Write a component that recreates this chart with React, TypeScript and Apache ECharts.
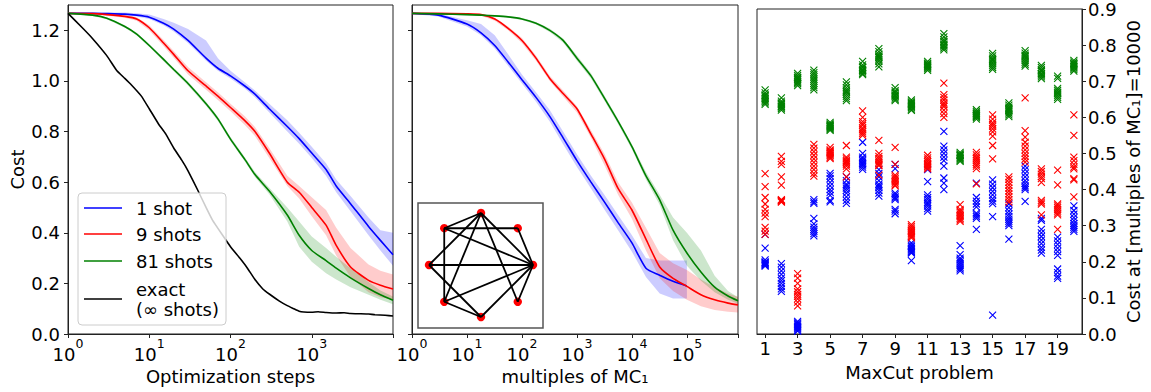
import React, { useEffect, useRef } from "react";
import * as echarts from "echarts";

const FONT = "DejaVu Sans";

// ---------- left panel: cost vs optimization steps ----------
const stepsX = [1, 2, 3, 5, 7, 10, 15, 20, 30, 50, 70, 100, 150, 200, 300, 500, 700, 1000, 1500, 2000, 3000, 5000, 7000, 10000];
const steps1Shot = [1.267, 1.267, 1.266, 1.264, 1.26, 1.252, 1.228, 1.205, 1.16, 1.09, 1.05, 1.02, 0.98, 0.948, 0.89, 0.82, 0.772, 0.715, 0.65, 0.585, 0.515, 0.425, 0.37, 0.313];
const steps1ShotHi = [1.27, 1.27, 1.27, 1.27, 1.267, 1.262, 1.245, 1.23, 1.205, 1.16, 1.09, 1.04, 0.995, 0.962, 0.91, 0.845, 0.795, 0.74, 0.675, 0.61, 0.545, 0.46, 0.41, 0.4];
const steps1ShotLo = [1.265, 1.264, 1.262, 1.26, 1.255, 1.245, 1.22, 1.195, 1.15, 1.08, 1.04, 1.01, 0.97, 0.935, 0.875, 0.8, 0.752, 0.695, 0.625, 0.56, 0.485, 0.39, 0.33, 0.27];
const steps9Shots = [1.267, 1.266, 1.262, 1.255, 1.245, 1.21, 1.15, 1.105, 1.04, 0.98, 0.94, 0.895, 0.843, 0.8, 0.715, 0.6, 0.56, 0.5, 0.43, 0.35, 0.265, 0.212, 0.193, 0.178];
const steps9ShotsHi = [1.268, 1.268, 1.265, 1.26, 1.252, 1.22, 1.162, 1.118, 1.055, 0.995, 0.955, 0.91, 0.86, 0.818, 0.735, 0.625, 0.585, 0.54, 0.49, 0.42, 0.34, 0.275, 0.25, 0.235];
const steps9ShotsLo = [1.265, 1.263, 1.258, 1.25, 1.238, 1.2, 1.138, 1.092, 1.025, 0.965, 0.925, 0.88, 0.826, 0.782, 0.695, 0.585, 0.535, 0.465, 0.39, 0.31, 0.225, 0.165, 0.145, 0.135];
const steps81Shots = [1.267, 1.26, 1.248, 1.215, 1.185, 1.14, 1.085, 1.045, 0.99, 0.91, 0.85, 0.77, 0.69, 0.63, 0.565, 0.47, 0.39, 0.33, 0.29, 0.26, 0.222, 0.18, 0.155, 0.133];
const steps81ShotsHi = [1.268, 1.262, 1.252, 1.22, 1.19, 1.146, 1.092, 1.052, 0.998, 0.918, 0.858, 0.778, 0.698, 0.64, 0.578, 0.5, 0.445, 0.385, 0.34, 0.305, 0.26, 0.205, 0.172, 0.148];
const steps81ShotsLo = [1.265, 1.257, 1.244, 1.21, 1.18, 1.134, 1.078, 1.038, 0.982, 0.902, 0.842, 0.762, 0.682, 0.62, 0.552, 0.445, 0.345, 0.285, 0.24, 0.215, 0.185, 0.155, 0.135, 0.118];
const exactX = [1, 1.5, 2, 3, 4, 5, 6, 8, 10, 13, 16, 20, 25, 30, 40, 50, 60, 80, 100, 130, 160, 200, 250, 300, 400, 500, 600, 700, 800, 1000, 1200, 1500, 2000, 2500, 3000, 4000, 5000, 6000, 8000, 10000];
const exactCost = [1.267, 1.21, 1.168, 1.1, 1.04, 1.01, 0.985, 0.94, 0.89, 0.83, 0.79, 0.735, 0.688, 0.645, 0.565, 0.5, 0.45, 0.39, 0.345, 0.3, 0.262, 0.215, 0.178, 0.158, 0.13, 0.112, 0.1, 0.09, 0.087, 0.086, 0.088, 0.085, 0.083, 0.084, 0.081, 0.08, 0.079, 0.076, 0.074, 0.071];

// ---------- middle panel: cost vs multiples of MC1 ----------
const mcX = [1, 3, 10, 18, 32, 56, 100, 180, 320, 560, 1000, 1800, 3200, 5600, 10000, 18000, 32000, 56000, 100000, 180000, 320000, 560000, 850000];
const mc1Shot = [1.267, 1.26, 1.225, 1.19, 1.14, 1.075, 1.005, 0.935, 0.86, 0.775, 0.685, 0.6, 0.52, 0.44, 0.36, 0.26, 0.232, 0.208, 0.19];
const mc1ShotHi = [1.27, 1.266, 1.24, 1.225, 1.18, 1.105, 1.025, 0.955, 0.885, 0.8, 0.71, 0.625, 0.548, 0.47, 0.39, 0.3, 0.29, 0.29, 0.29];
const mc1ShotLo = [1.264, 1.255, 1.215, 1.18, 1.128, 1.06, 0.99, 0.918, 0.84, 0.75, 0.66, 0.575, 0.49, 0.41, 0.325, 0.225, 0.16, 0.14, 0.14];
const mc9Shots = [1.267, 1.267, 1.265, 1.262, 1.245, 1.208, 1.16, 1.09, 1.01, 0.95, 0.89, 0.79, 0.69, 0.575, 0.49, 0.375, 0.265, 0.22, 0.188, 0.155, 0.135, 0.122, 0.115];
const mc9ShotsHi = [1.268, 1.268, 1.267, 1.265, 1.25, 1.215, 1.17, 1.1, 1.02, 0.962, 0.9, 0.805, 0.71, 0.6, 0.52, 0.42, 0.32, 0.28, 0.253, 0.215, 0.185, 0.16, 0.147];
const mc9ShotsLo = [1.265, 1.265, 1.262, 1.258, 1.238, 1.2, 1.15, 1.08, 1.0, 0.938, 0.875, 0.775, 0.665, 0.55, 0.455, 0.33, 0.22, 0.17, 0.135, 0.11, 0.095, 0.088, 0.085];
const mc81Shots = [1.267, 1.265, 1.262, 1.26, 1.257, 1.253, 1.245, 1.228, 1.2, 1.16, 1.09, 1.02, 0.93, 0.84, 0.74, 0.625, 0.53, 0.41, 0.32, 0.245, 0.185, 0.15, 0.131];
const mc81ShotsHi = [1.268, 1.267, 1.265, 1.263, 1.26, 1.256, 1.249, 1.233, 1.207, 1.168, 1.1, 1.03, 0.94, 0.85, 0.75, 0.64, 0.55, 0.46, 0.4, 0.33, 0.23, 0.17, 0.145];
const mc81ShotsLo = [1.265, 1.263, 1.259, 1.257, 1.254, 1.25, 1.241, 1.223, 1.193, 1.152, 1.08, 1.01, 0.92, 0.83, 0.73, 0.61, 0.51, 0.37, 0.27, 0.21, 0.165, 0.135, 0.12];

// ---------- right panel: cost at 10000 MC1 per MaxCut problem ----------
const problems = [1, 2, 3, 4, 5, 6, 7, 8, 9, 10, 11, 12, 13, 14, 15, 16, 17, 18, 19, 20];
const problemTicks = [1, 3, 5, 7, 9, 11, 13, 15, 17, 19];
const blueCosts = [
  [0.276, 0.238, 0.205, 0.2, 0.198, 0.196, 0.194, 0.192, 0.19, 0.188],
  [0.195, 0.185, 0.175, 0.165, 0.155, 0.148, 0.14, 0.132, 0.125, 0.118],
  [0.035, 0.031, 0.028, 0.025, 0.022, 0.02, 0.017, 0.014, 0.011, 0.008],
  [0.372, 0.366, 0.362, 0.32, 0.305, 0.296, 0.29, 0.284, 0.278, 0.272],
  [0.445, 0.438, 0.43, 0.42, 0.41, 0.4, 0.392, 0.384, 0.37, 0.366],
  [0.435, 0.425, 0.415, 0.41, 0.404, 0.398, 0.39, 0.38, 0.37, 0.362],
  [0.531, 0.5, 0.49, 0.485, 0.48, 0.476, 0.472, 0.468, 0.462, 0.456],
  [0.455, 0.445, 0.435, 0.425, 0.415, 0.41, 0.405, 0.398, 0.39, 0.382],
  [0.47, 0.458, 0.39, 0.385, 0.38, 0.376, 0.372, 0.345, 0.34, 0.333],
  [0.252, 0.246, 0.242, 0.238, 0.235, 0.232, 0.229, 0.226, 0.224, 0.203],
  [0.455, 0.422, 0.385, 0.378, 0.372, 0.365, 0.36, 0.354, 0.347, 0.34],
  [0.561, 0.52, 0.51, 0.5, 0.49, 0.48, 0.465, 0.432, 0.418, 0.4],
  [0.245, 0.22, 0.21, 0.205, 0.2, 0.195, 0.19, 0.185, 0.18, 0.175],
  [0.418, 0.378, 0.368, 0.36, 0.352, 0.335, 0.33, 0.325, 0.32, 0.29],
  [0.427, 0.415, 0.405, 0.395, 0.385, 0.375, 0.368, 0.361, 0.325, 0.052],
  [0.36, 0.35, 0.34, 0.332, 0.325, 0.318, 0.312, 0.306, 0.3, 0.263],
  [0.465, 0.455, 0.445, 0.435, 0.425, 0.417, 0.41, 0.405, 0.4, 0.367],
  [0.32, 0.315, 0.29, 0.28, 0.27, 0.26, 0.25, 0.24, 0.232, 0.224],
  [0.268, 0.258, 0.248, 0.238, 0.228, 0.218, 0.18, 0.17, 0.16, 0.154],
  [0.355, 0.342, 0.332, 0.322, 0.314, 0.306, 0.3, 0.295, 0.29, 0.284],
];
const redCosts = [
  [0.444, 0.408, 0.378, 0.36, 0.345, 0.335, 0.325, 0.295, 0.285, 0.276],
  [0.492, 0.478, 0.47, 0.435, 0.412, 0.372, 0.369, 0.367, 0.365, 0.37],
  [0.167, 0.155, 0.14, 0.125, 0.117, 0.11, 0.104, 0.097, 0.088, 0.078],
  [0.525, 0.515, 0.505, 0.495, 0.485, 0.475, 0.465, 0.455, 0.445, 0.437],
  [0.517, 0.51, 0.505, 0.5, 0.497, 0.494, 0.49, 0.502, 0.507, 0.486],
  [0.522, 0.49, 0.485, 0.48, 0.477, 0.474, 0.47, 0.465, 0.457, 0.435],
  [0.618, 0.6, 0.588, 0.578, 0.57, 0.565, 0.56, 0.555, 0.55, 0.582],
  [0.536, 0.5, 0.492, 0.486, 0.48, 0.476, 0.472, 0.468, 0.466, 0.44],
  [0.517, 0.47, 0.44, 0.435, 0.43, 0.426, 0.422, 0.418, 0.413, 0.41],
  [0.303, 0.298, 0.293, 0.288, 0.284, 0.28, 0.277, 0.274, 0.27, 0.266],
  [0.495, 0.488, 0.482, 0.477, 0.472, 0.468, 0.464, 0.46, 0.457, 0.47],
  [0.695, 0.663, 0.655, 0.648, 0.64, 0.635, 0.63, 0.62, 0.61, 0.6],
  [0.358, 0.345, 0.337, 0.332, 0.328, 0.325, 0.32, 0.316, 0.312, 0.34],
  [0.503, 0.496, 0.49, 0.485, 0.48, 0.475, 0.47, 0.465, 0.458, 0.416],
  [0.607, 0.595, 0.585, 0.575, 0.568, 0.56, 0.548, 0.522, 0.485, 0.58],
  [0.435, 0.428, 0.42, 0.412, 0.404, 0.396, 0.388, 0.38, 0.372, 0.365],
  [0.654, 0.563, 0.531, 0.52, 0.51, 0.5, 0.492, 0.484, 0.476, 0.545],
  [0.457, 0.45, 0.443, 0.436, 0.43, 0.42, 0.37, 0.365, 0.36, 0.33],
  [0.454, 0.413, 0.36, 0.355, 0.35, 0.345, 0.34, 0.335, 0.33, 0.29],
  [0.607, 0.55, 0.49, 0.48, 0.47, 0.462, 0.457, 0.43, 0.427, 0.38],
];
const greenCosts = [
  [0.676, 0.668, 0.662, 0.656, 0.652, 0.648, 0.644, 0.64, 0.636, 0.66],
  [0.654, 0.645, 0.64, 0.636, 0.632, 0.628, 0.624, 0.62, 0.638, 0.63],
  [0.722, 0.716, 0.711, 0.707, 0.704, 0.7, 0.697, 0.693, 0.688, 0.71],
  [0.731, 0.724, 0.718, 0.712, 0.706, 0.7, 0.694, 0.688, 0.682, 0.676],
  [0.586, 0.582, 0.579, 0.576, 0.573, 0.57, 0.567, 0.564, 0.574, 0.578],
  [0.698, 0.69, 0.682, 0.676, 0.67, 0.664, 0.658, 0.652, 0.646, 0.672],
  [0.755, 0.745, 0.738, 0.733, 0.729, 0.726, 0.722, 0.718, 0.73, 0.74],
  [0.79, 0.782, 0.775, 0.77, 0.765, 0.76, 0.755, 0.748, 0.74, 0.768],
  [0.682, 0.674, 0.667, 0.662, 0.658, 0.654, 0.65, 0.646, 0.66, 0.67],
  [0.648, 0.643, 0.639, 0.636, 0.633, 0.63, 0.627, 0.623, 0.619, 0.64],
  [0.755, 0.75, 0.746, 0.743, 0.74, 0.737, 0.734, 0.73, 0.748, 0.742],
  [0.832, 0.823, 0.815, 0.808, 0.802, 0.797, 0.792, 0.787, 0.81, 0.8],
  [0.503, 0.499, 0.496, 0.493, 0.49, 0.487, 0.484, 0.481, 0.478, 0.495],
  [0.621, 0.616, 0.612, 0.608, 0.605, 0.602, 0.599, 0.595, 0.61, 0.604],
  [0.777, 0.77, 0.764, 0.758, 0.753, 0.748, 0.743, 0.738, 0.733, 0.76],
  [0.64, 0.634, 0.628, 0.622, 0.617, 0.612, 0.607, 0.602, 0.62, 0.625],
  [0.785, 0.778, 0.772, 0.767, 0.762, 0.757, 0.752, 0.747, 0.742, 0.77],
  [0.744, 0.738, 0.732, 0.727, 0.722, 0.717, 0.712, 0.707, 0.72, 0.73],
  [0.714, 0.708, 0.68, 0.675, 0.67, 0.665, 0.66, 0.655, 0.65, 0.668],
  [0.758, 0.753, 0.749, 0.745, 0.742, 0.739, 0.736, 0.732, 0.728, 0.748],
];

// ---------- inset graph (8-node MaxCut instance) ----------
// node positions on unit circle (y downwards): 0=right,1=upper-right,2=top,3=upper-left,4=left,5=lower-left,6=bottom,7=lower-right
const graphNodes = [
  [1, 0], [0.707, -0.707], [0, -1], [-0.707, -0.707],
  [-1, 0], [-0.707, 0.707], [0, 1], [0.707, 0.707],
];
const graphEdges = [
  [2, 3], [3, 1], [3, 0], [3, 5], [2, 4], [2, 5], [2, 0], [2, 7],
  [4, 0], [1, 0], [0, 7], [0, 5], [0, 6], [5, 6], [4, 6],
];

const legendLabels = ["1 shot", "9 shots", "81 shots", "exact\n(∞ shots)"];
const yTicks = [0, 0.2, 0.4, 0.6, 0.8, 1.0, 1.2];
const rightYTicks = [0, 0.1, 0.2, 0.3, 0.4, 0.5, 0.6, 0.7, 0.8, 0.9];

const BLUE = "#0000ff";
const RED = "#ff0000";
const GREEN = "#008000";
const BLACK = "#000000";
const fade = (c: string) =>
  c === BLUE ? "rgba(0,0,255,0.2)" : c === RED ? "rgba(255,0,0,0.2)" : "rgba(0,128,0,0.2)";

const zip = (xs: number[], ys: number[]) => ys.map((y, i) => [xs[i], y]);

function band(axis: number, xs: number[], lo: number[], hi: number[], color: string) {
  const n = lo.length;
  return {
    type: "custom",
    coordinateSystem: "cartesian2d",
    xAxisIndex: axis,
    yAxisIndex: axis,
    data: lo.map((l, i) => [xs[i], l, hi[i]]),
    encode: { x: 0, y: [1, 2] },
    clip: true,
    silent: true,
    z: 1,
    renderItem: (params: any, api: any) => {
      if (params.dataIndex !== 0) return null;
      const upper: number[][] = [];
      const lower: number[][] = [];
      for (let i = 0; i < n; i++) {
        upper.push(api.coord([xs[i], hi[i]]));
        lower.push(api.coord([xs[i], lo[i]]));
      }
      lower.reverse();
      return {
        type: "polygon",
        shape: { points: upper.concat(lower) },
        style: { fill: fade(color), stroke: "none" },
      };
    },
  };
}
function curve(axis: number, xs: number[], ys: number[], color: string, smooth = 0.2) {
  return {
    type: "line", xAxisIndex: axis, yAxisIndex: axis, data: zip(xs, ys), symbol: "none",
    smooth, lineStyle: { color, width: 1.6 }, silent: true, z: 3,
  };
}
function scatter(costs: number[][], color: string) {
  return {
    type: "scatter", xAxisIndex: 2, yAxisIndex: 2,
    data: costs.flatMap((vals, i) => vals.map((v) => [problems[i], v])),
    symbol: "path://M0,0L10,10M10,0L0,10", symbolSize: 7,
    itemStyle: { color: "none", borderColor: color, borderWidth: 1.1, opacity: 1 },
    silent: true, z: 3,
  };
}

const logLabel = (hide: number[]) => ({
  color: "#000", margin: 3,
  formatter: (v: number) => {
    const e = Math.log10(v);
    const r = Math.round(e);
    if (Math.abs(e - r) > 1e-6 || hide.includes(r)) return "";
    return `{b|10}{s|${r}}`;
  },
  rich: {
    b: { fontFamily: FONT, fontSize: 18, color: "#000", lineHeight: 26, verticalAlign: "bottom" },
    s: { fontFamily: FONT, fontSize: 12.5, color: "#000", lineHeight: 12, verticalAlign: "top" },
  },
});

const tickStyle = { length: 4, lineStyle: { color: "#222", width: 1 } };
const axisLine = { show: true, onZero: false, lineStyle: { color: "#222", width: 1 } };
const nameStyle = { fontFamily: FONT, fontSize: 18, color: "#000" };

export default function App() {
  const ref = useRef<HTMLDivElement>(null);
  useEffect(() => {
    if (!ref.current) return;
    const chart = echarts.init(ref.current, undefined, { renderer: "svg" });
    const gridBase = { top: 5, height: 329, show: true, borderColor: "#222", borderWidth: 1, backgroundColor: "#fff" };
    const yLeft = (gi: number, labels: boolean) => ({
      type: "value", gridIndex: gi, min: 0, max: 1.3,
      axisLine, splitLine: { show: false },
      axisTick: { ...tickStyle, customValues: yTicks },
      axisLabel: {
        show: labels, customValues: yTicks, margin: 8, color: "#000", fontFamily: FONT, fontSize: 18,
        formatter: (v: number) => v.toFixed(1),
      },
      ...(labels
        ? { name: "Cost", nameLocation: "middle", nameGap: 42, nameRotate: 90, nameTextStyle: nameStyle }
        : {}),
    });

    const legendY = [208, 234, 261, 299];
    const legendColors = [BLUE, RED, GREEN, BLACK];
    const legendGraphics: any[] = [
      {
        type: "rect", z: 100, shape: { x: 78, y: 193, width: 148, height: 132, r: 4 },
        style: { fill: "rgba(255,255,255,0.8)", stroke: "#cccccc", lineWidth: 1 },
      },
    ];
    legendLabels.forEach((lab, i) => {
      legendGraphics.push({
        type: "line", z: 101, shape: { x1: 84, y1: legendY[i], x2: 122, y2: legendY[i] },
        style: { stroke: legendColors[i], lineWidth: 1.6 },
      });
      legendGraphics.push({
        type: "text", z: 101, x: 136, y: legendY[i],
        style: {
          text: lab, fill: "#000", font: `18px "${FONT}"`, textVerticalAlign: "middle",
          lineHeight: 20,
        },
      });
    });

    // inset: box + network drawing
    const inset = { cx: 481, cy: 265, r: 52 };
    const nodePx = graphNodes.map(([x, y]) => [inset.cx + inset.r * x, inset.cy + inset.r * y]);
    const insetGraphics: any[] = [
      {
        type: "rect", z: 100, shape: { x: 418, y: 203, width: 125, height: 125 },
        style: { fill: "#ffffff", stroke: "#555555", lineWidth: 1.5 },
      },
      ...nodePx.map(([x, y]) => ({
        type: "circle", z: 101, shape: { cx: x, cy: y, r: 4.2 }, style: { fill: RED },
      })),
      ...graphEdges.map(([s, t]) => ({
        type: "line", z: 102,
        shape: { x1: nodePx[s][0], y1: nodePx[s][1], x2: nodePx[t][0], y2: nodePx[t][1] },
        style: { stroke: "#000", lineWidth: 1.8 },
      })),
    ];

    const option: any = {
      animation: false,
      textStyle: { fontFamily: FONT },
      grid: [
        { ...gridBase, left: 68, width: 325 },
        { ...gridBase, left: 412, width: 326 },
        { ...gridBase, left: 757, width: 325 },
      ],
      xAxis: [
        {
          type: "log", logBase: 10, gridIndex: 0, min: 1, max: 10000, axisLine, splitLine: { show: false },
          axisTick: tickStyle, axisLabel: logLabel([4]),
          name: "Optimization steps", nameLocation: "middle", nameGap: 29, nameTextStyle: nameStyle,
        },
        {
          type: "log", logBase: 10, gridIndex: 1, min: 1, max: 850000, axisLine, splitLine: { show: false },
          axisTick: tickStyle, axisLabel: logLabel([]),
          name: "multiples of MC₁", nameLocation: "middle", nameGap: 29, nameTextStyle: nameStyle,
        },
        {
          type: "value", gridIndex: 2, min: 0.5, max: 20.5, axisLine, splitLine: { show: false },
          axisTick: { ...tickStyle, customValues: problemTicks },
          axisLabel: { customValues: problemTicks, margin: 5, color: "#000", fontFamily: FONT, fontSize: 18 },
          name: "MaxCut problem", nameLocation: "middle", nameGap: 29, nameTextStyle: nameStyle,
        },
      ],
      yAxis: [
        yLeft(0, true),
        yLeft(1, false),
        {
          type: "value", gridIndex: 2, position: "right", min: 0, max: 0.9,
          axisLine, splitLine: { show: false },
          axisTick: { ...tickStyle, customValues: rightYTicks },
          axisLabel: {
            customValues: rightYTicks, margin: 6, color: "#000", fontFamily: FONT, fontSize: 18,
            formatter: (v: number) => v.toFixed(1),
          },
          name: "Cost at [multiples of MC₁]=10000", nameLocation: "middle", nameGap: 42, nameRotate: 90,
          nameTextStyle: nameStyle,
        },
      ],
      graphic: [...legendGraphics, ...insetGraphics],
      series: [
        band(0, stepsX, steps1ShotLo, steps1ShotHi, BLUE),
        band(0, stepsX, steps9ShotsLo, steps9ShotsHi, RED),
        band(0, stepsX, steps81ShotsLo, steps81ShotsHi, GREEN),
        curve(0, stepsX, steps1Shot, BLUE),
        curve(0, stepsX, steps9Shots, RED),
        curve(0, stepsX, steps81Shots, GREEN),
        curve(0, exactX, exactCost, BLACK, 0.1),
        band(1, mcX, mc1ShotLo, mc1ShotHi, BLUE),
        band(1, mcX, mc9ShotsLo, mc9ShotsHi, RED),
        band(1, mcX, mc81ShotsLo, mc81ShotsHi, GREEN),
        curve(1, mcX, mc1Shot, BLUE),
        curve(1, mcX, mc9Shots, RED),
        curve(1, mcX, mc81Shots, GREEN),
        scatter(blueCosts, BLUE),
        scatter(redCosts, RED),
        scatter(greenCosts, GREEN),
      ],
    };
    chart.setOption(option);
    return () => chart.dispose();
  }, []);
  return (
    <div
      ref={ref}
      style={{ position: "fixed", left: 0, top: 0, width: 1151, height: 392, background: "#fff" }}
    />
  );
}
